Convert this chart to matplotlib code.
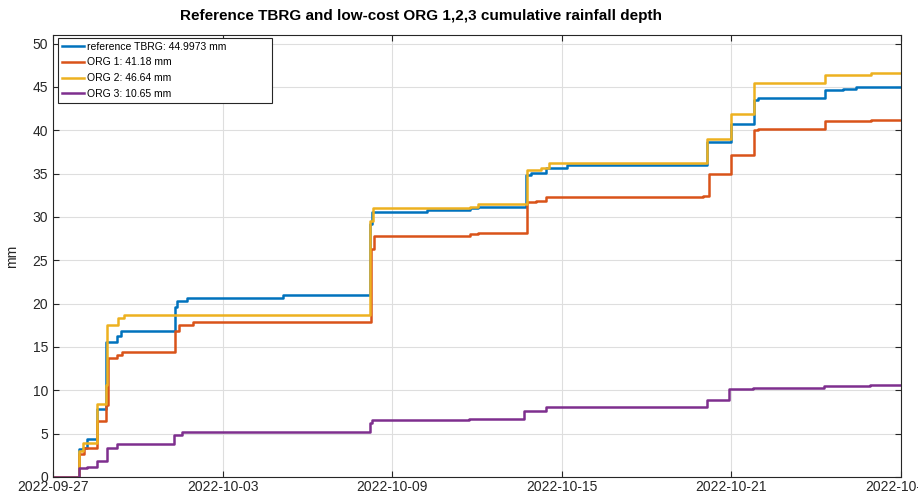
import datetime as dt
import matplotlib
matplotlib.use("Agg")
import matplotlib.pyplot as plt
import matplotlib.dates as mdates

start = dt.datetime(2022, 9, 27)

# step points: days since 2022-09-27, cumulative depth in mm
t_ref = [0, 0.92, 1.05, 1.20, 1.55, 1.87, 2.25, 2.40, 4.30, 4.40, 4.75, 8.15, 11.22, 11.30,
         13.23, 14.75, 15.05, 16.75, 16.90, 17.45, 18.20, 23.15, 24.00, 24.80, 24.95, 27.30,
         27.95, 28.40, 30.0]
v_ref = [0, 3.2, 3.4, 4.4, 7.9, 15.6, 16.3, 16.8, 19.6, 20.3, 20.7, 21.0, 29.2, 30.6,
         30.8, 31.0, 31.2, 34.9, 35.1, 35.6, 36.0, 38.7, 40.7, 43.5, 43.7, 44.6,
         44.8, 45.0, 45.0]

t_org1 = [0, 0.92, 1.10, 1.55, 1.88, 1.93, 2.25, 2.45, 4.30, 4.45, 4.95, 11.25, 11.35, 14.75,
          15.05, 16.78, 17.10, 17.45, 23.00, 23.20, 24.00, 24.80, 24.95, 27.32, 28.95, 30.0]
v_org1 = [0, 2.6, 3.4, 6.5, 8.3, 13.7, 14.1, 14.4, 16.9, 17.5, 17.9, 26.3, 27.8, 28.0,
          28.2, 31.7, 31.9, 32.3, 32.4, 35.0, 37.2, 40.0, 40.1, 41.1, 41.18, 41.18]

t_org2 = [0, 0.92, 1.05, 1.55, 1.88, 1.92, 2.30, 2.50, 11.22, 11.32, 14.75, 15.05, 16.78,
          17.25, 17.55, 23.15, 23.98, 24.80, 27.32, 28.95, 30.0]
v_org2 = [0, 2.95, 3.9, 8.4, 10.6, 17.5, 18.3, 18.65, 29.5, 31.0, 31.2, 31.5, 35.4,
          35.7, 36.2, 39.0, 41.9, 45.5, 46.4, 46.64, 46.64]

t_org3 = [0, 0.92, 1.20, 1.55, 1.90, 2.25, 4.28, 4.55, 11.22, 11.30, 14.70, 16.65, 17.45,
          23.12, 23.92, 24.75, 27.26, 28.90, 30.0]
v_org3 = [0, 1.0, 1.2, 1.9, 3.3, 3.8, 4.9, 5.15, 6.2, 6.55, 6.75, 7.6, 8.05,
          8.9, 10.1, 10.3, 10.55, 10.65, 10.65]

labels = ["reference TBRG: 44.9973 mm", "ORG 1: 41.18 mm", "ORG 2: 46.64 mm", "ORG 3: 10.65 mm"]
colors = ["#0072BD", "#D95319", "#EDB120", "#7E2F8E"]

plt.rcParams['font.family'] = ['Liberation Sans', 'DejaVu Sans']

fig = plt.figure(figsize=(9.18, 4.93), dpi=100)
ax = fig.add_axes([53/918, 16/493, 848/918, 442/493])

series = [(t_ref, v_ref), (t_org1, v_org1), (t_org2, v_org2), (t_org3, v_org3)]
for (t, v), lab, col in zip(series, labels, colors):
    x = [start + dt.timedelta(days=d) for d in t]
    ax.plot(x, v, drawstyle='steps-post', color=col, lw=1.8, label=lab)

ax.set_xlim(start, start + dt.timedelta(days=30))
ax.set_ylim(0, 51)
ax.set_yticks(range(0, 51, 5))
ax.set_xticks([start + dt.timedelta(days=6 * i) for i in range(6)])
ax.xaxis.set_major_formatter(mdates.DateFormatter('%Y-%m-%d'))

ax.grid(True, color='#dedede', lw=0.8)
ax.set_axisbelow(True)
for s in ax.spines.values():
    s.set_color('#262626')
    s.set_linewidth(0.8)
ax.tick_params(direction='in', length=4, width=0.8, color='#262626', labelcolor='#262626',
               labelsize=10, top=True, right=True)
ax.tick_params(axis='x', pad=2)
ax.set_ylabel('mm', fontsize=10, color='#262626', labelpad=10)

ax.set_title('Reference TBRG and low-cost ORG 1,2,3 cumulative rainfall depth',
             fontsize=11, fontweight='bold', x=0.434, pad=11)

leg = ax.legend(loc='upper left', bbox_to_anchor=(0.006, 0, 0.252, 0.993), mode='expand',
                fontsize=7.5, fancybox=False, framealpha=1,
                edgecolor='#262626', handlelength=2.1, handletextpad=0.3,
                borderaxespad=0, borderpad=0.35, labelspacing=0.55)
leg.get_frame().set_linewidth(0.8)

plt.savefig('out.png', dpi=100)
